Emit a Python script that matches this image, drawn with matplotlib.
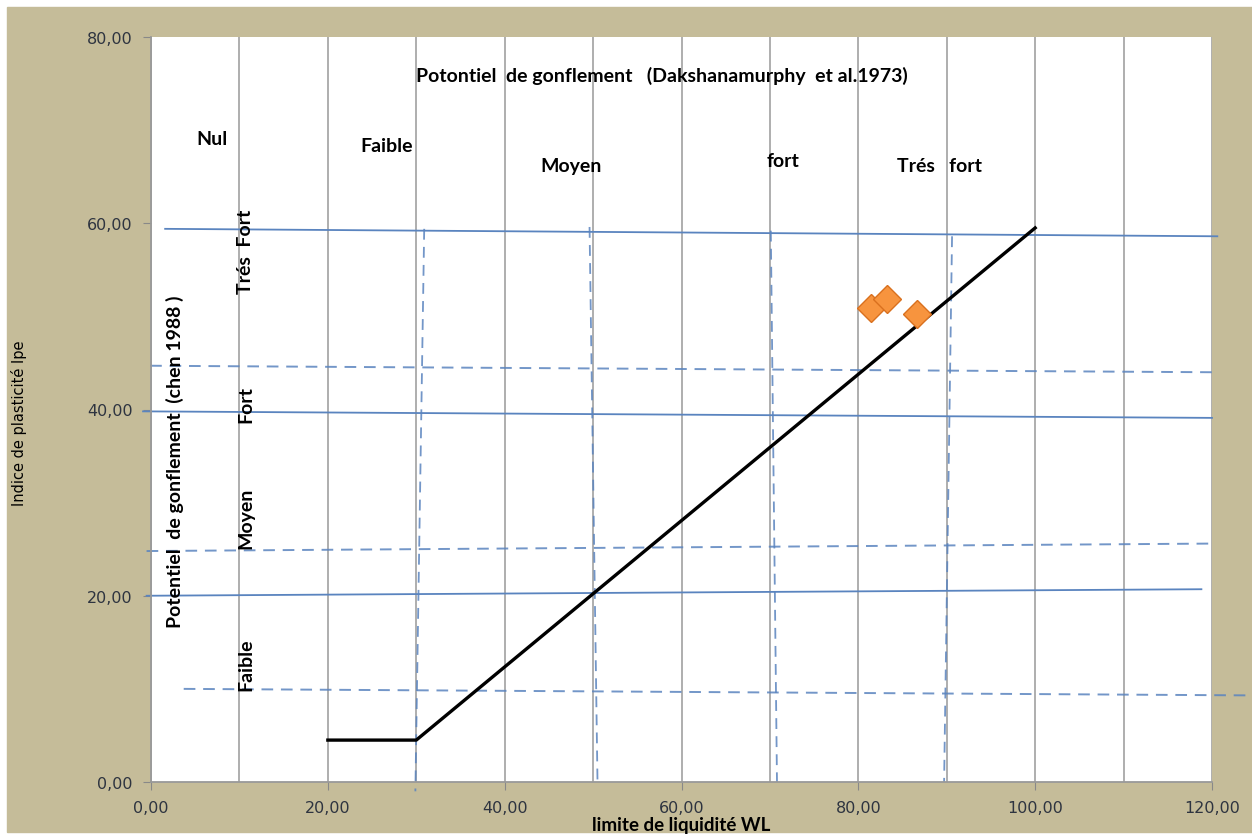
import matplotlib
matplotlib.use("Agg")
import matplotlib.pyplot as plt
from matplotlib.patches import Rectangle
from matplotlib.ticker import MultipleLocator, FuncFormatter

# echantillons (limite de liquidite, indice de plasticite)
wl = [81.4, 83.2, 86.6]
ip = [50.9, 51.9, 50.3]

# limite Chen 1988
limite_x = [20, 30, 100]
limite_y = [4.5, 4.5, 59.5]

# lignes de zones (x0, x1, y0, y1)
h_pleines = [[1.6, 120.6, 59.4, 58.6],
             [-0.9, 120.0, 39.8, 39.1],
             [-0.5, 118.8, 20.0, 20.7]]
h_tirets = [[-0.1, 120.2, 44.7, 44.0],
            [-0.5, 119.6, 24.8, 25.6],
            [3.7, 124.4, 10.0, 9.3]]
v_tirets = [[30.9, 29.9, 59.4, -1.0],
            [49.6, 50.5, 59.6, 0.0],
            [70.1, 70.8, 59.2, 0.0],
            [90.6, 89.7, 58.6, 0.0]]

# etiquettes (texte, x, y)
zones_wl = [("Nul", 6.9, 69.1), ("Faible", 26.7, 68.4), ("Moyen", 47.5, 66.2),
            ("fort", 71.5, 66.7), ("Trés   fort", 89.2, 66.2)]
zones_ip = [("Trés  Fort", 10.7, 57.0), ("Fort", 10.7, 40.6),
            ("Moyen", 10.7, 28.4), ("Faible", 10.7, 12.7)]

beige = "#c5bc99"
bleu = "#5a84bf"
police = "Lato"
taille = 14

fig = plt.figure(figsize=(12.52, 8.37), dpi=100, facecolor="white")
fig.patches.append(Rectangle((7 / 1252, 4 / 837), 1, 825 / 837,
                             transform=fig.transFigure, color=beige, zorder=-10))
ax = fig.add_axes([151 / 1252, 54 / 837, 1061 / 1252, 745 / 837])
ax.set_facecolor("white")

ax.set_xlim(0, 120)
ax.set_ylim(0, 80)
ax.xaxis.set_major_locator(MultipleLocator(20))
ax.xaxis.set_minor_locator(MultipleLocator(10))
ax.yaxis.set_major_locator(MultipleLocator(20))
fmt = FuncFormatter(lambda v, p: f"{v:.2f}".replace(".", ","))
ax.xaxis.set_major_formatter(fmt)
ax.yaxis.set_major_formatter(fmt)
ax.grid(True, axis="x", which="both", color="#a8a8a8", lw=1.3)
ax.set_axisbelow(True)
ax.tick_params(axis="both", which="major", direction="out", length=6,
               color="#888888", labelsize=11.5, labelcolor="#2e3440", pad=7)
ax.tick_params(axis="x", which="minor", length=0)
for s in ["top", "right"]:
    ax.spines[s].set_visible(False)
for s in ["left", "bottom"]:
    ax.spines[s].set_color("#999999")
    ax.spines[s].set_linewidth(1.3)

for x0, x1, y0, y1 in h_pleines:
    ax.plot([x0, x1], [y0, y1], color=bleu, lw=1.3, clip_on=False, zorder=2)
for x0, x1, y0, y1 in h_tirets:
    ax.plot([x0, x1], [y0, y1], color=bleu, lw=1.4, ls=(0, (6, 4)),
            alpha=0.85, clip_on=False, zorder=2)
for x0, x1, y0, y1 in v_tirets:
    ax.plot([x0, x1], [y0, y1], color=bleu, lw=1.3, ls=(0, (6, 4)),
            alpha=0.85, clip_on=False, zorder=2)

ax.plot(limite_x, limite_y, color="black", lw=2.4, zorder=3)
ax.plot(wl, ip, ls="none", marker="D", ms=14, mfc="#f7943e",
        mec="#d9701e", mew=1, zorder=4)

ax.text(57.8, 75.9, "Potontiel  de gonflement   (Dakshanamurphy  et al.1973)",
        ha="center", va="center", fontsize=taille, family=police, weight="bold")
for t, x, y in zones_wl:
    ax.text(x, y, t, ha="center", va="center", fontsize=taille,
            family=police, weight="bold")
for t, x, y in zones_ip:
    ax.text(x, y, t, ha="center", va="center", rotation=90, fontsize=taille,
            family=police, weight="bold")
ax.text(2.7, 34.5, "Potentiel  de gonflement  (chen 1988 )", ha="center",
        va="center", rotation=90, fontsize=taille, family=police, weight="bold")

ax.set_xlabel("limite de liquidité WL", fontsize=13.5, family=police,
              weight="bold", va="baseline")
ax.xaxis.set_label_coords(0.5, -0.0645)
ax.set_ylabel("Indice de plasticité Ipe", fontsize=10.5, family="DejaVu Sans")
ax.yaxis.set_label_coords(-0.117, 0.483)

fig.savefig("out.png", dpi=100, facecolor=fig.get_facecolor())
